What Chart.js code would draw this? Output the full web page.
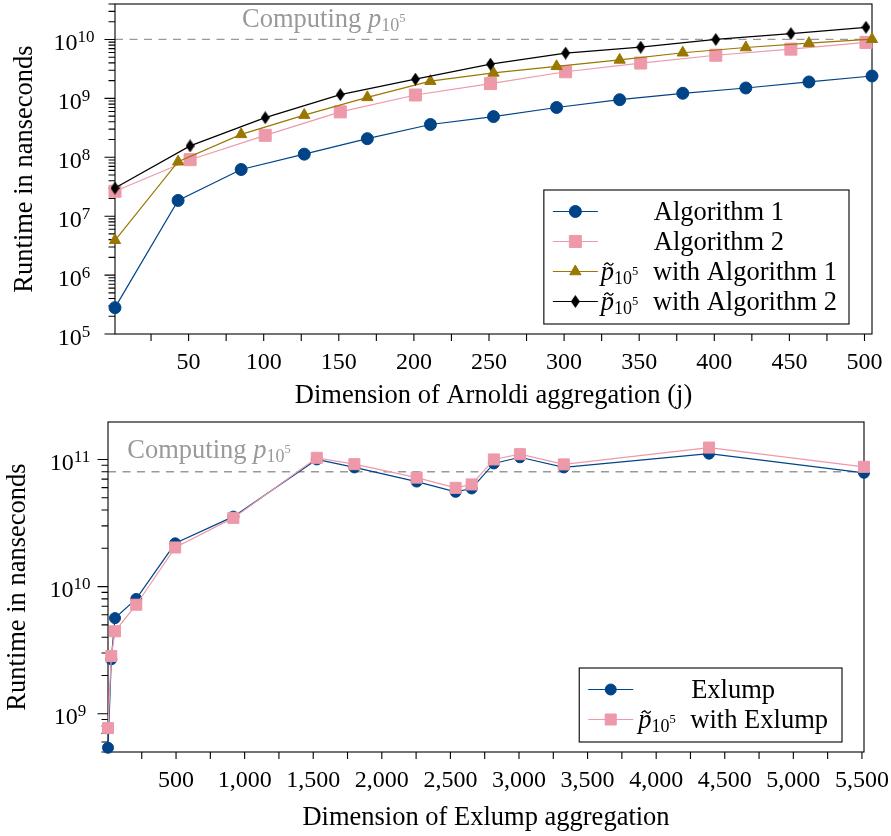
<!DOCTYPE html>
<html>
<head>
<meta charset="utf-8">
<script src="https://cdn.jsdelivr.net/npm/chart.js@4.4.1/dist/chart.umd.min.js"></script>
<style>
html, body { margin: 0; padding: 0; background: #fff; }
#top { position: absolute; left: 0; top: 0; width: 891px; height: 410px; }
#bottom { position: absolute; left: 0; top: 410px; width: 891px; height: 426px; }
</style>
</head>
<body>
<div id="top"><canvas id="topChart"></canvas></div>
<div id="bottom"><canvas id="bottomChart"></canvas></div>
<script>
// values
const arnoldiDimsA = [1, 43, 85, 127, 169, 211, 253, 295, 337, 379, 421, 463, 505];
const algo1 = [2.8e5, 1.85e7, 6.2e7, 1.13e8, 2.07e8, 3.6e8, 4.9e8, 7.0e8, 9.5e8, 1.22e9, 1.5e9, 1.9e9, 2.4e9];
const pTildeAlgo1 = [3.9e6, 8.4e7, 2.45e8, 5.2e8, 1.04e9, 1.96e9, 2.7e9, 3.5e9, 4.5e9, 5.95e9, 7.3e9, 8.65e9, 1.01e10];

const arnoldiDimsB = [1, 51, 101, 151, 201, 251, 301, 351, 401, 451, 501];
const algo2 = [2.65e7, 9.1e7, 2.36e8, 5.9e8, 1.14e9, 1.78e9, 2.83e9, 3.98e9, 5.4e9, 6.85e9, 8.9e9];
const pTildeAlgo2 = [3.0e7, 1.56e8, 4.7e8, 1.16e9, 2.12e9, 3.81e9, 5.87e9, 7.4e9, 1.0e10, 1.26e10, 1.61e10];

const exlumpDims = [4, 28, 55, 210, 494, 918, 1526, 1800, 2254, 2538, 2655, 2817, 3007, 3327, 4385, 5515];
const exlump = [5.4e8, 2.68e9, 5.65e9, 8.0e9, 2.19e10, 3.55e10, 1.0e11, 8.65e10, 6.7e10, 5.56e10, 5.91e10, 9.3e10, 1.04e11, 8.65e10, 1.11e11, 7.85e10];
const pTildeExlump = [7.7e8, 2.84e9, 4.45e9, 7.2e9, 2.03e10, 3.47e10, 1.03e11, 9.18e10, 7.2e10, 5.98e10, 6.36e10, 1.0e11, 1.1e11, 9.14e10, 1.24e11, 8.75e10];

// reference level "Computing p_{10^5}"
const computingTop = 1e10;
const computingBottom = 8e10;

// axis ranges and ticks
const topYRange = [1e5, 4e10];
const bottomYRange = [5e8, 1.97e11];
const topXTicks = [25, 50, 75, 100, 125, 150, 175, 200, 225, 250, 275, 300, 325, 350, 375, 400, 425, 450, 475, 500];
const bottomXTicks = [250, 500, 750, 1000, 1250, 1500, 1750, 2000, 2250, 2500, 2750, 3000, 3250, 3500, 3750, 4000, 4250, 4500, 4750, 5000, 5250, 5500];

const BLUE = '#004488', PINK = '#EE99AA', GOLD = '#997700', BLACK = '#000000';
const SERIF = '"Liberation Serif", "DejaVu Serif", serif';
const TXT = 26.5, SUB = 18, SUBSUB = 12.5, TICK = 24;
const PTILDE = 'p\u0303\u2081\u2080\u2075';

Chart.defaults.font.family = SERIF;

function fontOf(p) {
    return (p.italic ? 'italic ' : '') + p.size + 'px ' + SERIF;
}

function richWidth(ctx, parts) {
    let total = 0;
    parts.forEach(p => {
        ctx.font = fontOf(p);
        p.w = ctx.measureText(p.text).width + (p.dx || 0);
        total += p.w;
    });
    return total;
}

function drawRich(ctx, parts, x, y, align) {
    const total = richWidth(ctx, parts);
    let cx = align === 'right' ? x - total : (align === 'center' ? x - total / 2 : x);
    ctx.textBaseline = 'alphabetic';
    ctx.textAlign = 'left';
    parts.forEach(p => {
        ctx.font = fontOf(p);
        const tx = cx + (p.dx || 0);
        ctx.fillText(p.text, tx, y + (p.dy || 0));
        if (p.tilde) {
            const tw = p.size * 0.34, a = tx + (p.w - (p.dx || 0)) * 0.6 - tw / 2, ty = y - p.size * 0.6;
            ctx.save();
            ctx.strokeStyle = ctx.fillStyle;
            ctx.lineWidth = 1.3;
            ctx.beginPath();
            ctx.moveTo(a, ty + 1);
            ctx.quadraticCurveTo(a + tw * 0.25, ty - 2.6, a + tw * 0.5, ty);
            ctx.quadraticCurveTo(a + tw * 0.75, ty + 2.6, a + tw, ty - 1);
            ctx.stroke();
            ctx.restore();
        }
        cx += p.w;
    });
    return total;
}

function pSub(tilde) {
    return [
        {text: 'p', size: TXT, italic: true, tilde: tilde},
        {text: '10', size: SUB, dy: 4},
        {text: '5', size: SUBSUB, dy: -5}
    ];
}

function labelParts(label) {
    if (label.startsWith(PTILDE)) {
        return pSub(true).concat([{text: label.slice(PTILDE.length), size: TXT, dx: 8}]);
    }
    return [{text: label, size: TXT}];
}

function logTicks(min, max) {
    const out = [];
    for (let e = Math.floor(Math.log10(min)); e <= Math.ceil(Math.log10(max)); e++) {
        for (let k = 1; k < 10; k++) {
            const v = Number((k * Math.pow(10, e)).toPrecision(12));
            if (v >= min * 0.999 && v <= max * 1.001) out.push(v);
        }
    }
    return out;
}

function isDecade(v) {
    const l = Math.log10(v);
    return Math.abs(l - Math.round(l)) < 1e-9;
}

function diamondMark(w, h, color) {
    const c = document.createElement('canvas');
    c.width = w;
    c.height = h;
    const g = c.getContext('2d');
    g.fillStyle = color;
    g.beginPath();
    g.moveTo(w / 2, 0);
    g.lineTo(w, h / 2);
    g.lineTo(w / 2, h);
    g.lineTo(0, h / 2);
    g.closePath();
    g.fill();
    return c;
}

function points(xs, ys) {
    return xs.map((x, i) => ({x: x, y: ys[i]}));
}

function series(label, xs, ys, color, style, radius, order) {
    return {
        label: label,
        data: points(xs, ys),
        borderColor: color,
        backgroundColor: color,
        borderWidth: 1.2,
        pointStyle: style,
        pointRadius: radius,
        pointBackgroundColor: color,
        pointBorderColor: color,
        pointBorderWidth: 1,
        tension: 0,
        clip: false,
        order: order
    };
}

// frame, ticks, dashed level, legend
const overlay = {
    id: 'overlay',
    beforeDatasetsDraw(chart, args, opts) {
        const ctx = chart.ctx, a = chart.chartArea;
        const xs = chart.scales.x, ys = chart.scales.y;
        ctx.save();
        // dashed reference line and its label
        const ly = ys.getPixelForValue(opts.level);
        ctx.strokeStyle = '#999';
        ctx.lineWidth = 1.3;
        ctx.setLineDash([8, 6.5]);
        ctx.beginPath();
        ctx.moveTo(a.left, ly);
        ctx.lineTo(a.right, ly);
        ctx.stroke();
        ctx.setLineDash([]);
        ctx.fillStyle = '#999';
        drawRich(ctx, [{text: 'Computing ', size: TXT}].concat(pSub(false)),
            xs.getPixelForValue(opts.levelLabelX), ly - opts.levelLabelRise, 'center');

        // frame
        ctx.strokeStyle = '#000';
        ctx.lineWidth = 1.1;
        ctx.strokeRect(a.left, a.top, a.right - a.left, a.bottom - a.top);

        // x ticks
        ctx.beginPath();
        xs.ticks.forEach(t => {
            const px = xs.getPixelForValue(t.value);
            ctx.moveTo(px, a.bottom);
            ctx.lineTo(px, a.bottom + 7);
        });
        // y ticks
        ys.ticks.forEach(t => {
            const py = ys.getPixelForValue(t.value);
            const len = isDecade(t.value) ? 10.5 : 6.5;
            ctx.moveTo(a.left - len, py);
            ctx.lineTo(a.left, py);
        });
        ctx.stroke();

        // y tick labels 10^n
        ctx.fillStyle = '#000';
        ys.ticks.forEach(t => {
            if (!isDecade(t.value)) return;
            const py = ys.getPixelForValue(t.value);
            const e = Math.round(Math.log10(t.value));
            drawRich(ctx, [{text: '10', size: TICK}, {text: String(e), size: 17, dy: -8}],
                a.left - opts.yLabelCenter, py + 10.7, 'center');
        });
        ctx.restore();
    },
    afterDraw(chart, args, opts) {
        const ctx = chart.ctx, a = chart.chartArea;
        const sets = chart.data.datasets;
        ctx.save();
        let maxW = 0;
        const rows = sets.map(ds => {
            const parts = labelParts(ds.label);
            maxW = Math.max(maxW, richWidth(ctx, parts));
            return parts;
        });
        const boxW = 9 + 45 + opts.legendGap + maxW + opts.legendPadR;
        const boxH = sets.length * 30 + 14;
        const right = a.right - opts.legendRight, bottom = a.bottom - 10;
        const left = right - boxW, top = bottom - boxH;
        ctx.fillStyle = '#fff';
        ctx.fillRect(left, top, boxW, boxH);
        ctx.strokeStyle = '#000';
        ctx.lineWidth = 1.1;
        ctx.strokeRect(left, top, boxW, boxH);
        sets.forEach((ds, i) => {
            const cy = top + 21.5 + i * 30;
            const sx = left + 9;
            ctx.strokeStyle = ds.borderColor;
            ctx.lineWidth = 1.2;
            ctx.beginPath();
            ctx.moveTo(sx, cy);
            ctx.lineTo(sx + 45, cy);
            ctx.stroke();
            ctx.fillStyle = ds.pointBackgroundColor;
            ctx.strokeStyle = ds.pointBorderColor;
            ctx.lineWidth = 1;
            Chart.helpers.drawPoint(ctx, {pointStyle: ds.pointStyle, radius: ds.pointRadius, rotation: 0, borderWidth: 1}, sx + 22.5, cy);
            ctx.fillStyle = '#000';
            drawRich(ctx, rows[i], sx + 45 + opts.legendGap + maxW / 2, cy + 8.5, 'center');
        });
        ctx.restore();
    }
};

const tickFont = {family: SERIF, size: TICK};
const titleFont = {family: SERIF, size: TXT};

const topChart = new Chart(document.getElementById('topChart'), {
    type: 'line',
    data: {
        datasets: [
            series('Algorithm 1', arnoldiDimsA, algo1, BLUE, 'circle', 6, 4),
            series('Algorithm 2', arnoldiDimsB, algo2, PINK, 'rect', 8.5, 3),
            series(PTILDE + ' with Algorithm 1', arnoldiDimsA, pTildeAlgo1, GOLD, 'triangle', 6.5, 2),
            series(PTILDE + ' with Algorithm 2', arnoldiDimsB, pTildeAlgo2, BLACK, diamondMark(9, 13, BLACK), 6, 1)
        ]
    },
    options: {
        responsive: true,
        maintainAspectRatio: false,
        animation: false,
        layout: {autoPadding: false, padding: {left: 0, right: 19, top: 4, bottom: 0}},
        plugins: {
            legend: {display: false},
            tooltip: {enabled: false},
            overlay: {level: computingTop, levelLabelX: 140, levelLabelRise: 12.6, yLabelCenter: 41, legendRight: 23, legendGap: 3, legendPadR: 12}
        },
        scales: {
            x: {
                type: 'linear',
                bounds: 'data',
                min: Math.min(...arnoldiDimsA),
                max: Math.max(...arnoldiDimsA),
                grid: {display: false, drawTicks: false},
                border: {display: false},
                afterBuildTicks: s => { s.ticks = topXTicks.map(v => ({value: v})); },
                afterFit: s => { s.height = 76; s.paddingLeft = 0; s.paddingRight = 0; },
                ticks: {autoSkip: false, maxRotation: 0, padding: 14, color: '#000', font: tickFont,
                    callback: v => (v % 50 === 0 ? String(v) : '')},
                title: {display: true, text: 'Dimension of Arnoldi aggregation (j)', color: '#000', font: titleFont, padding: {top: 0, bottom: -2}}
            },
            y: {
                type: 'logarithmic',
                bounds: 'data',
                min: topYRange[0],
                max: topYRange[1],
                grid: {display: false, drawTicks: false},
                border: {display: false},
                afterBuildTicks: s => { s.ticks = logTicks(topYRange[0], topYRange[1]).map(v => ({value: v})); },
                afterFit: s => { s.width = 115; s.paddingTop = 0; s.paddingBottom = 0; },
                ticks: {display: false},
                title: {display: true, text: 'Runtime in nanseconds', color: '#000', font: titleFont, padding: {top: 9, bottom: 0}}
            }
        }
    },
    plugins: [overlay]
});

const bottomChart = new Chart(document.getElementById('bottomChart'), {
    type: 'line',
    data: {
        datasets: [
            series('Exlump', exlumpDims, exlump, BLUE, 'circle', 5.5, 2),
            series(PTILDE + ' with Exlump', exlumpDims, pTildeExlump, PINK, 'rect', 7.8, 1)
        ]
    },
    options: {
        responsive: true,
        maintainAspectRatio: false,
        animation: false,
        layout: {autoPadding: false, padding: {left: 0, right: 27, top: 12, bottom: 0}},
        plugins: {
            legend: {display: false},
            tooltip: {enabled: false},
            overlay: {level: computingBottom, levelLabelX: 740, levelLabelRise: 13.5, yLabelCenter: 38, legendRight: 22, legendGap: 5, legendPadR: 14}
        },
        scales: {
            x: {
                type: 'linear',
                bounds: 'data',
                min: Math.min(...exlumpDims),
                max: Math.max(...exlumpDims),
                grid: {display: false, drawTicks: false},
                border: {display: false},
                afterBuildTicks: s => { s.ticks = bottomXTicks.map(v => ({value: v})); },
                afterFit: s => { s.height = 84; s.paddingLeft = 0; s.paddingRight = 0; },
                ticks: {autoSkip: false, maxRotation: 0, padding: 14.5, color: '#000', font: tickFont,
                    callback: v => (v % 500 === 0 ? String(v).replace(/\B(?=(\d{3})+(?!\d))/g, ',') : '')},
                title: {display: true, text: 'Dimension of Exlump aggregation', color: '#000', font: titleFont, padding: {top: 0, bottom: 2}}
            },
            y: {
                type: 'logarithmic',
                bounds: 'data',
                min: bottomYRange[0],
                max: bottomYRange[1],
                grid: {display: false, drawTicks: false},
                border: {display: false},
                afterBuildTicks: s => { s.ticks = logTicks(bottomYRange[0], bottomYRange[1]).map(v => ({value: v})); },
                afterFit: s => { s.width = 108; s.paddingTop = 0; s.paddingBottom = 0; },
                ticks: {display: false},
                title: {display: true, text: 'Runtime in nanseconds', color: '#000', font: titleFont, padding: {top: 2, bottom: 0}}
            }
        }
    },
    plugins: [overlay]
});
</script>
</body>
</html>
